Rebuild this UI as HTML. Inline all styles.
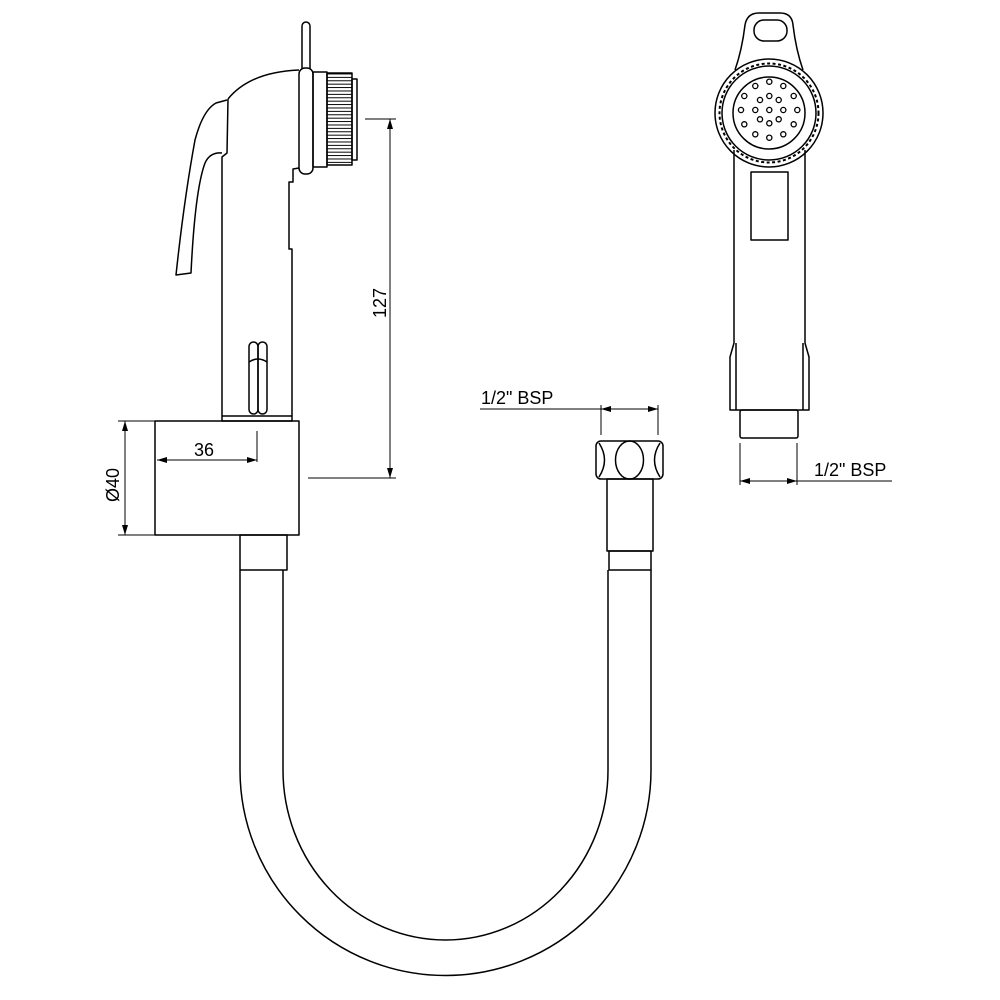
<!DOCTYPE html>
<html><head><meta charset="utf-8"><style>
html,body{margin:0;padding:0;background:#fff}
svg{display:block}
text{font-family:"Liberation Sans",sans-serif;font-size:18px;fill:#000}
</style></head><body>
<svg width="1000" height="1000" viewBox="0 0 1000 1000" xmlns="http://www.w3.org/2000/svg">
<defs>
<pattern id="kn" width="25" height="3.4" patternUnits="userSpaceOnUse" x="327" y="73">
<line x1="0" y1="1" x2="25" y2="1" stroke="#000" stroke-width="1"/>
</pattern>
<marker id="a" viewBox="0 0 10 6" refX="10" refY="3" markerWidth="12" markerHeight="6" orient="auto-start-reverse" markerUnits="userSpaceOnUse"><path d="M0,0 L10,3 L0,6z" fill="#000"/></marker>
</defs>
<g fill="none" stroke="#000" stroke-width="1.5" stroke-linejoin="round">
<rect x="302" y="22" width="8" height="50" rx="4"/>
<rect x="299" y="68" width="14" height="106" rx="6" fill="#fff"/>
<rect x="313" y="72" width="14" height="95"/>
<rect x="327" y="73" width="25" height="92" fill="url(#kn)"/>
<rect x="352" y="79" width="5" height="81"/>
<path d="M228,99 Q250,72 299,70"/>
<path d="M228,99 L227,153 L222,157 L222,416"/>
<path d="M299,168 L293,169 L293,182 L289,182 L289,249 L292,249 L292,416"/>
<path d="M227,100 L216,103 Q203,110 195,140 Q184,200 176,275 L191,273 Q195,190 205,163 Q210,152 222,153"/>
<rect x="222" y="416" width="70" height="5"/>
<rect x="249" y="342" width="9" height="72" rx="4.5"/>
<rect x="258" y="342" width="9" height="72" rx="4.5"/>
<path d="M249,362 Q258,356 267,362"/>
<rect x="155" y="421" width="144" height="114"/>
<rect x="240" y="535" width="47" height="35"/>
<path d="M240,570 L240,770 A205.5,205.5 0 0 0 651,770 L651,570"/>
<path d="M283,570 L283,770 A162.5,170 0 0 0 608,770 L608,570"/>
<rect x="596" y="441" width="67" height="38" rx="5"/>
<ellipse cx="629.5" cy="460" rx="14" ry="19"/>
<path d="M599,443 Q610,460 599,477"/>
<path d="M660,443 Q649,460 660,477"/>
<rect x="607" y="479" width="46" height="72"/>
<rect x="609" y="551" width="42" height="19"/>
<path d="M735,70 Q742,50 745,25 Q747,13 759,13 L780,13 Q792,13 793,25 Q796,50 803,70"/>
<rect x="754" y="20" width="33" height="21" rx="10"/>
<circle cx="769" cy="113" r="54" fill="#fff"/>
<circle cx="769" cy="113" r="49.5" stroke-width="2" stroke-dasharray="3 2.5"/>
<circle cx="769" cy="113" r="47"/>
<circle cx="769" cy="113" r="36"/>
<path d="M734,150 L734,343 L730,357 L730,410 L809,410 L809,357 L805,343 L805,150"/>
<path d="M736,343 L736,410 M803,343 L803,410"/>
<rect x="751" y="172" width="37" height="68"/>
<rect x="740" y="410" width="58" height="28" rx="2"/>
</g>
<g fill="none" stroke="#000" stroke-width="1.3">
<circle cx="769.3" cy="81.7" r="2.6"/>
<circle cx="755.3" cy="86" r="2.6"/><circle cx="783.3" cy="86" r="2.6"/>
<circle cx="744.3" cy="96" r="2.6"/><circle cx="769.3" cy="96" r="2.6"/><circle cx="793.7" cy="96" r="2.6"/>
<circle cx="760" cy="100" r="2.6"/><circle cx="778.7" cy="100" r="2.6"/>
<circle cx="741" cy="110" r="2.6"/><circle cx="755.3" cy="110" r="2.6"/><circle cx="769.3" cy="110" r="2.6"/><circle cx="783.3" cy="110" r="2.6"/><circle cx="797.3" cy="110" r="2.6"/>
<circle cx="760" cy="119.3" r="2.6"/><circle cx="778.7" cy="119.3" r="2.6"/>
<circle cx="769.3" cy="123.3" r="2.6"/>
<circle cx="744.3" cy="124.3" r="2.6"/><circle cx="793.7" cy="124.3" r="2.6"/>
<circle cx="755.3" cy="134.3" r="2.6"/><circle cx="783.3" cy="134.3" r="2.6"/>
<circle cx="769.3" cy="137.7" r="2.6"/>
</g>
<g fill="none" stroke="#000" stroke-width="1">
<line x1="257" y1="431" x2="257" y2="462"/>
<line x1="157" y1="460" x2="257" y2="460" marker-start="url(#a)" marker-end="url(#a)"/>
<line x1="365" y1="119" x2="396" y2="119"/>
<line x1="308" y1="478" x2="396" y2="478"/>
<line x1="390" y1="119" x2="390" y2="478" marker-start="url(#a)" marker-end="url(#a)"/>
<line x1="118" y1="421" x2="155" y2="421"/>
<line x1="118" y1="535" x2="155" y2="535"/>
<line x1="125" y1="421" x2="125" y2="535" marker-start="url(#a)" marker-end="url(#a)"/>
<line x1="480" y1="409" x2="601" y2="409"/>
<line x1="601" y1="405" x2="601" y2="435"/>
<line x1="658" y1="405" x2="658" y2="435"/>
<line x1="601" y1="409" x2="658" y2="409" marker-start="url(#a)" marker-end="url(#a)"/>
<line x1="740" y1="443" x2="740" y2="485"/>
<line x1="797" y1="443" x2="797" y2="485"/>
<line x1="740" y1="481" x2="797" y2="481" marker-start="url(#a)" marker-end="url(#a)"/>
<line x1="797" y1="481" x2="892" y2="481"/>
</g>
<text x="194" y="456">36</text>
<text transform="translate(386,318) rotate(-90)">127</text>
<text transform="translate(119,502) rotate(-90)">Ø40</text>
<text x="481" y="404">1/2" BSP</text>
<text x="814" y="476">1/2" BSP</text>
</svg>
</body></html>
